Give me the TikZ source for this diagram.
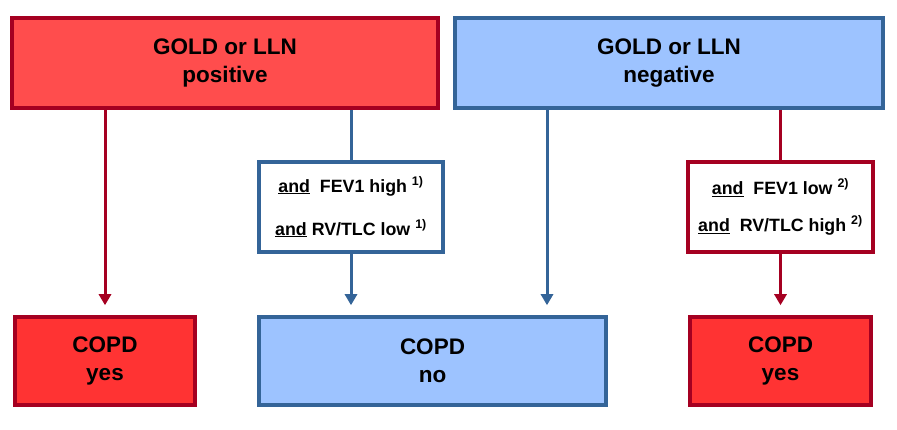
\documentclass[tikz,border=0pt]{standalone}
\usepackage{fontspec}
\setmainfont{Liberation Sans}
\usepackage{xcolor}
\usetikzlibrary{arrows.meta}

\definecolor{darkred}{RGB}{165,0,33}
\definecolor{topred}{RGB}{255,77,77}
\definecolor{botred}{RGB}{255,51,51}
\definecolor{lightblue}{RGB}{157,195,255}
\definecolor{darkblue}{RGB}{52,100,152}

\tikzset{
  redbox/.style={draw=darkred,line width=3.5pt,inner sep=0pt,align=center},
  bluebox/.style={draw=darkblue,line width=3.5pt,inner sep=0pt,align=center},
  bigtext/.style={font=\fontsize{22.5}{28}\selectfont\bfseries},
  smalltext/.style={font=\fontsize{17.8}{22}\selectfont\bfseries},
  redline/.style={draw=darkred,line width=3pt,-{Triangle[width=12pt,length=11pt]}},
  blueline/.style={draw=darkblue,line width=3pt,-{Triangle[width=12pt,length=11pt]}},
  plainred/.style={draw=darkred,line width=3pt},
  plainblue/.style={draw=darkblue,line width=3pt}
}

\begin{document}
\begin{tikzpicture}[x=1pt,y=1pt,yscale=-1]
   \useasboundingbox (0,0) rectangle (897,430);

   % top row
   \node (posbox) [redbox,fill=topred,minimum width=426pt,minimum height=90pt,bigtext]
      at (225,63) {GOLD or LLN\\positive};
   \node (negbox) [bluebox,fill=lightblue,minimum width=428pt,minimum height=90pt,bigtext]
      at (669,63) {GOLD or LLN\\negative};

   % middle row
   \node (midl) [bluebox,fill=white,minimum width=184pt,minimum height=90pt,smalltext]
      at (351,207)
      {\underline{and}\ \ FEV1 high \textsuperscript{1)}\\[21pt]\underline{and} RV/TLC low \textsuperscript{1)}};
   \node (midr) [redbox,fill=white,minimum width=185pt,minimum height=90pt,smalltext]
      at (780.5,207)
      {\underline{and}\ \ FEV1 low \textsuperscript{2)}\\[15pt]\underline{and}\ \ RV/TLC high \textsuperscript{2)}};

   % bottom row
   \node (yesl) [redbox,fill=botred,minimum width=180pt,minimum height=88pt,bigtext]
      at (105,361) {COPD\\yes};
   \node (nobox) [bluebox,fill=lightblue,minimum width=347pt,minimum height=88pt,bigtext]
      at (432.5,361) {COPD\\no};
   \node (yesr) [redbox,fill=botred,minimum width=181pt,minimum height=88pt,bigtext]
      at (780.5,361) {COPD\\yes};

   % connectors
   \draw [redline,shorten >=10pt] (posbox.south -| yesl.north) -- (yesl.north);
   \draw [plainblue] (posbox.south -| midl.north) -- (midl.north);
   \draw [blueline,shorten >=10pt] (midl.south) -- (midl.south |- nobox.north);
   \draw [blueline,shorten >=10pt] ([xshift=-122pt]negbox.south) -- ([xshift=-122pt]negbox.south |- nobox.north);
   \draw [plainred] (negbox.south -| midr.north) -- (midr.north);
   \draw [redline,shorten >=10pt] (midr.south) -- (yesr.north);

\end{tikzpicture}
\end{document}
